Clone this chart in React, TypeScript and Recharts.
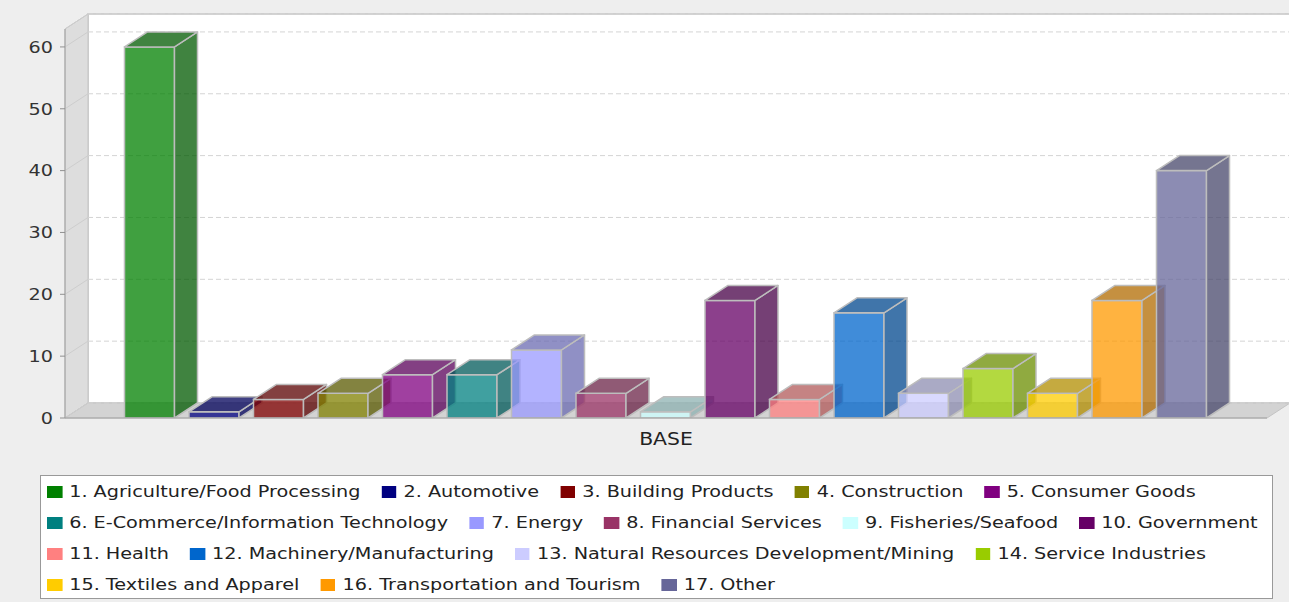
import { BarChart, Bar, XAxis, YAxis, CartesianGrid } from 'recharts';

const categories = ['BASE'];

const seriesNames = [
  '1. Agriculture/Food Processing',
  '2. Automotive',
  '3. Building Products',
  '4. Construction',
  '5. Consumer Goods',
  '6. E-Commerce/Information Technology',
  '7. Energy',
  '8. Financial Services',
  '9. Fisheries/Seafood',
  '10. Government',
  '11. Health',
  '12. Machinery/Manufacturing',
  '13. Natural Resources Development/Mining',
  '14. Service Industries',
  '15. Textiles and Apparel',
  '16. Transportation and Tourism',
  '17. Other',
];

const seriesValues = [60, 1, 3, 4, 7, 7, 11, 4, 1, 19, 3, 17, 4, 8, 4, 19, 40];

const seriesColors = [
  '#008000', '#000080', '#800000', '#808000', '#800080',
  '#008080', '#9999ff', '#993366', '#ccffff', '#660066',
  '#ff8080', '#0066cc', '#ccccff', '#99cc00', '#ffcc00',
  '#ff9900', '#666699',
];

const yTicks = [0, 10, 20, 30, 40, 50, 60];
const yMax = 62.9;

// how many legend items sit on each line
const legendRowSizes = [5, 5, 4, 3];

const W = 1289;
const CHART_H = 470;
const MARGIN = { top: 29, right: 22, left: 0, bottom: 22 };
const Y_AXIS_W = 65;
const X_AXIS_H = 30;
const DX = 23;
const DY = 15;
const STRETCH = 1.2;
const FONT = '"DejaVu Sans", Verdana, sans-serif';
const OUTLINE = '#bdbdbd';

const data = categories.map(name => {
  const row: Record<string, string | number> = { name };
  seriesValues.forEach((v, i) => { row[`s${i}`] = v; });
  return row;
});

function darker(hex: string) {
  const n = parseInt(hex.slice(1), 16);
  const r = Math.floor(((n >> 16) & 255) * 0.7);
  const g = Math.floor(((n >> 8) & 255) * 0.7);
  const b = Math.floor((n & 255) * 0.7);
  return `rgb(${r},${g},${b})`;
}

function Bar3D(props: any) {
  const { x, y, width: w, height: h, color } = props;
  if (w == null || h == null || isNaN(x) || isNaN(y)) return null;
  const side = darker(color);
  return (
    <g>
      <rect x={x} y={y} width={w} height={h} fill={color} fillOpacity={0.75} stroke={OUTLINE} strokeWidth={1.5} />
      <polygon
        points={`${x + w},${y} ${x + w + DX},${y - DY} ${x + w + DX},${y + h - DY} ${x + w},${y + h}`}
        fill={side} fillOpacity={0.75} stroke={OUTLINE} strokeWidth={1.5} strokeLinejoin="round"
      />
      <polygon
        points={`${x},${y} ${x + DX},${y - DY} ${x + w + DX},${y - DY} ${x + w},${y}`}
        fill={side} fillOpacity={0.75} stroke={OUTLINE} strokeWidth={1.5} strokeLinejoin="round"
      />
    </g>
  );
}

function Walls({ left, right }: { left: number; right: number }) {
  const top = MARGIN.top;
  const bottom = CHART_H - MARGIN.bottom - X_AXIS_H;
  return (
    <g>
      <rect x={left + DX} y={top - DY} width={right - left} height={bottom - top} fill="#ffffff" stroke="#c4c4c4" strokeWidth={1.5} />
      <polygon
        points={`${left},${top} ${left + DX},${top - DY} ${left + DX},${bottom - DY} ${left},${bottom}`}
        fill="#dddddd" stroke="#c4c4c4" strokeWidth={1}
      />
      <polygon
        points={`${left},${bottom} ${left + DX},${bottom - DY} ${right + DX},${bottom - DY} ${right},${bottom}`}
        fill="#d3d3d3" stroke="#c4c4c4" strokeWidth={1}
      />
    </g>
  );
}

const gridLine = (p: any) => {
  const { x1, y1, x2 } = p;
  const first = p.index === 0 || String(p.key ?? '').endsWith('-0');
  return (
    <g key={p.key}>
      {first && <Walls left={x1} right={x2} />}
      <line x1={x1} y1={y1} x2={x1 + DX} y2={y1 - DY} stroke="#cdcdcd" strokeWidth={1} />
      <line x1={x1 + DX} y1={y1 - DY} x2={x2 + DX} y2={y1 - DY} stroke="#d4d4d4" strokeWidth={1} strokeDasharray="5 3" />
    </g>
  );
};

const YTick = (p: any) => (
  <text
    transform={`translate(${p.x},${p.y}) scale(${STRETCH},1)`}
    textAnchor="end"
    dy="0.36em"
    fontSize={16}
    fontFamily={FONT}
    fill="#333"
  >
    {p.payload.value}
  </text>
);

const XTick = (p: any) => (
  <text
    transform={`translate(${p.x},${p.y}) scale(${STRETCH},1)`}
    textAnchor="middle"
    dy={27}
    fontSize={17}
    fontFamily={FONT}
    fill="#222"
  >
    {p.payload.value}
  </text>
);

function Legend() {
  const rows: number[][] = [];
  let start = 0;
  legendRowSizes.forEach(n => {
    rows.push(seriesNames.map((_, i) => i).slice(start, start + n));
    start += n;
  });
  return (
    <div style={{
      position: 'absolute', left: 40, top: 475, width: 1233, height: 124,
      border: '1px solid #999', background: '#fff', boxSizing: 'border-box', overflow: 'hidden',
    }}>
      <div style={{ transform: `scaleX(${STRETCH})`, transformOrigin: '0 0', paddingLeft: 6 / STRETCH }}>
        {rows.map((row, r) => (
          <div key={r} style={{ display: 'flex', alignItems: 'center', height: 31, whiteSpace: 'nowrap' }}>
            {row.map(i => (
              <span key={i} style={{ display: 'inline-flex', alignItems: 'center', marginRight: 17.5 }}>
                <span style={{ width: 12.5, height: 12, background: seriesColors[i], display: 'inline-block' }} />
                <span style={{ marginLeft: 6, fontFamily: FONT, fontSize: 16, color: '#222' }}>{seriesNames[i]}</span>
              </span>
            ))}
          </div>
        ))}
      </div>
    </div>
  );
}

export default function App() {
  return (
    <div style={{ position: 'absolute', left: 0, top: 0, width: W, height: 602, background: '#eeeeee', overflow: 'hidden' }}>
      <BarChart
        width={W}
        height={CHART_H}
        data={data}
        margin={MARGIN}
        barCategoryGap={59.5}
        barGap={14.5}
      >
        <CartesianGrid vertical={false} horizontal={gridLine} />
        <XAxis
          dataKey="name"
          height={X_AXIS_H}
          axisLine={{ stroke: '#a0a0a0' }}
          tickLine={false}
          tickSize={0}
          tickMargin={0}
          tick={XTick}
        />
        <YAxis
          width={Y_AXIS_W}
          domain={[0, yMax]}
          ticks={yTicks}
          allowDataOverflow
          axisLine={{ stroke: '#a0a0a0' }}
          tickLine={{ stroke: '#909090' }}
          tickSize={5}
          tickMargin={7}
          tick={YTick}
        />
        {seriesValues.map((_, i) => (
          <Bar
            key={i}
            dataKey={`s${i}`}
            name={seriesNames[i]}
            fill={seriesColors[i]}
            isAnimationActive={false}
            shape={(p: any) => <Bar3D {...p} color={seriesColors[i]} />}
          />
        ))}
      </BarChart>
      <Legend />
    </div>
  );
}
